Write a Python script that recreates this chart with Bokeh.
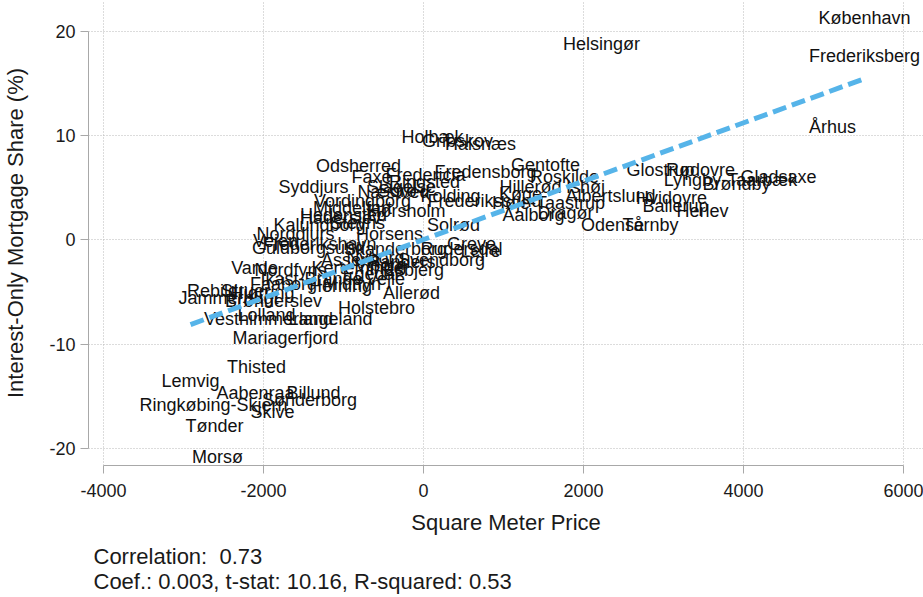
from bokeh.plotting import figure
from bokeh.models import ColumnDataSource, Range1d, Title
from bokeh.core.properties import value
from bokeh.embed import file_html
from bokeh.resources import INLINE

# Municipality, demeaned square-meter price and demeaned interest-only share (%)
municipality = [
    "København", "Frederiksberg", "Helsingør", "Århus", "Holbæk", "Gribskov", "Halsnæs",
    "Odsherred", "Faxe", "Fredericia", "Ringsted", "Fredensborg", "Gentofte", "Roskilde",
    "Ishøj", "Hillerød", "Syddjurs", "Slagelse", "Næstved", "Sorø", "Kolding", "Køge",
    "Frederikssund", "Høje-Taastrup", "Albertslund", "Glostrup", "Rødovre", "Lyngby-Taarbæk",
    "Gladsaxe", "Brøndby", "Hvidovre", "Ballerup", "Herlev", "Odense", "Tårnby", "Dragør",
    "Aalborg", "Vordingborg", "Middelfart", "Hørsholm", "Haderslev", "Kalundborg", "Stevns",
    "Solrød", "Horsens", "Norddjurs", "Vejen", "Frederikshavn", "Guldborgsund", "Skanderborg",
    "Rudersdal", "Lejre", "Greve", "Svendborg", "Nyborg", "Assens", "Varde", "Nordfyns",
    "Kerteminde", "Egedal", "Esbjerg", "Ikast-Brande", "Vejle", "Faaborg-Midtfyn", "Herning",
    "Rebild", "Struer", "Hjørring", "Jammerbugt", "Brønderslev", "Lolland", "Vesthimmerland",
    "Langeland", "Allerød", "Holstebro", "Mariagerfjord", "Thisted", "Lemvig", "Aabenraa",
    "Billund", "Sønderborg", "Ringkøbing-Skjern", "Skive", "Tønder", "Morsø",
    "Viborg", "Randers", "Hedensted",
]
sqm_price = [
    5512, 5512, 2225, 5112, 112, 425, 712,
    -812, -650, 25, 12, 775, 1525, 1762,
    2025, 1337, -1375, -275, -375, -325, 337, 1212,
    762, 1562, 2337, 2962, 3462, 3837,
    4437, 3912, 3100, 3150, 3487, 2362, 2837, 1775,
    1375, -762, -887, -212, -1037, -1300, -825,
    375, -425, -1600, -1850, -1300, -1437, -350,
    475, 712, 600, 225, -600, -912, -2112, -1662,
    -825, -662, -125, -1400, -475, -1350, -1037,
    -2637, -2225, -2012, -2437, -1875, -1962, -1937,
    -1162, -150, -587, -1725, -2087, -2912, -2100,
    -1375, -1425, -2625, -1887, -2612, -2575,
    -537, -275, -1000,
]
io_share = [
    21.31, 17.67, 18.82, 10.87, 9.82, 9.53, 9.15,
    7.04, 6.08, 6.18, 5.51, 6.47, 7.14, 6.08,
    5.12, 5.03, 5.03, 5.12, 4.55, 4.74, 4.26, 4.36,
    3.78, 3.59, 4.26, 6.75, 6.66, 5.70,
    5.99, 5.41, 4.07, 3.21, 2.73, 1.48, 1.48, 2.63,
    2.44, 3.78, 3.02, 2.73, 2.06, 1.39, 1.58,
    1.39, 0.62, 0.53, -0.14, -0.34, -0.81, -0.91,
    -0.91, -1.01, -0.34, -1.87, -1.68, -1.87, -2.73, -2.92,
    -2.73, -3.21, -2.92, -3.69, -3.69, -4.26, -4.45,
    -4.84, -4.84, -5.12, -5.60, -5.89, -7.14, -7.52,
    -7.52, -5.03, -6.56, -9.43, -12.21, -13.46, -14.70,
    -14.61, -15.37, -15.85, -16.43, -17.86, -20.83,
    -2.44, -2.15, 2.35,
]

# Fitted regression line (end points)
fit_x = [-2912, 5512]
fit_y = [-8.1, 15.45]

x_ticks = [-4000, -2000, 0, 2000, 4000, 6000]
x_tick_labels = ["-4000", "-2000", "0", "2000", "4000", "6000"]
y_ticks = [-20, -10, 0, 10, 20]
y_tick_labels = ["-20", "-10", "0", "10", "20"]

notes = ["Correlation: \u00a00.73", "Coef.: 0.003, t-stat: 10.16, R-squared: 0.53"]

FONT = "Liberation Sans"
INK = "#1a1a1a"

p = figure(
    width=923, height=597, output_backend="svg", toolbar_location=None,
    x_range=Range1d(-4187.5, 6250), y_range=Range1d(-21.6, 22.94),
    min_border_left=88, min_border_right=0, min_border_top=0, min_border_bottom=132,
)
p.outline_line_color = None
p.background_fill_color = "white"

# axes
for ax, ticks, labels, bounds in (
    (p.xaxis, x_ticks, x_tick_labels, (-4000, 6000)),
    (p.yaxis, y_ticks, y_tick_labels, (-20, 20)),
):
    ax.ticker = ticks
    ax.major_label_overrides = dict(zip(ticks, labels))
    ax.bounds = bounds
    ax.axis_line_color = "#a8a8a8"
    ax.major_tick_line_color = "#a8a8a8"
    ax.major_tick_out = 8
    ax.major_tick_in = 0
    ax.minor_tick_out = 0
    ax.minor_tick_in = 0
    ax.major_label_text_font = FONT
    ax.major_label_text_font_size = "18px"
    ax.major_label_text_color = INK
    ax.major_label_standoff = 5
    ax.axis_label_text_font = FONT
    ax.axis_label_text_font_size = "22px"
    ax.axis_label_text_font_style = "normal"
    ax.axis_label_text_color = INK

p.xaxis.major_label_standoff = 10
p.xaxis.axis_label = "Square Meter Price"
p.xaxis.axis_label_standoff = 10
p.yaxis.axis_label = "Interest-Only Mortgage Share (%)"
p.yaxis.axis_label_standoff = 18

# dotted grid
p.xgrid.ticker = x_ticks
p.ygrid.ticker = y_ticks
for g in (p.xgrid, p.ygrid):
    g.grid_line_color = "#b8b8b8"
    g.grid_line_dash = "1 2"
    g.grid_line_width = 1

src = ColumnDataSource(dict(x=sqm_price, y=io_share, name=municipality))
p.text(
    x="x", y="y", text="name", source=src,
    text_font=value(FONT), text_font_size="18px",
    text_align="center", text_baseline="middle", text_color="#111111",
)

p.line(fit_x, fit_y, line_color="#56b4e9", line_width=5, line_dash="14 6")

# regression summary under the x axis
for i, t in enumerate(notes):
    p.add_layout(Title(
        text=t, align="left", offset=5, standoff=-11 if i else 8,
        text_font=FONT, text_font_size="22px", text_font_style="normal",
        text_color=INK,
    ), "below")

open("out.html", "w").write(file_html(p, INLINE))
